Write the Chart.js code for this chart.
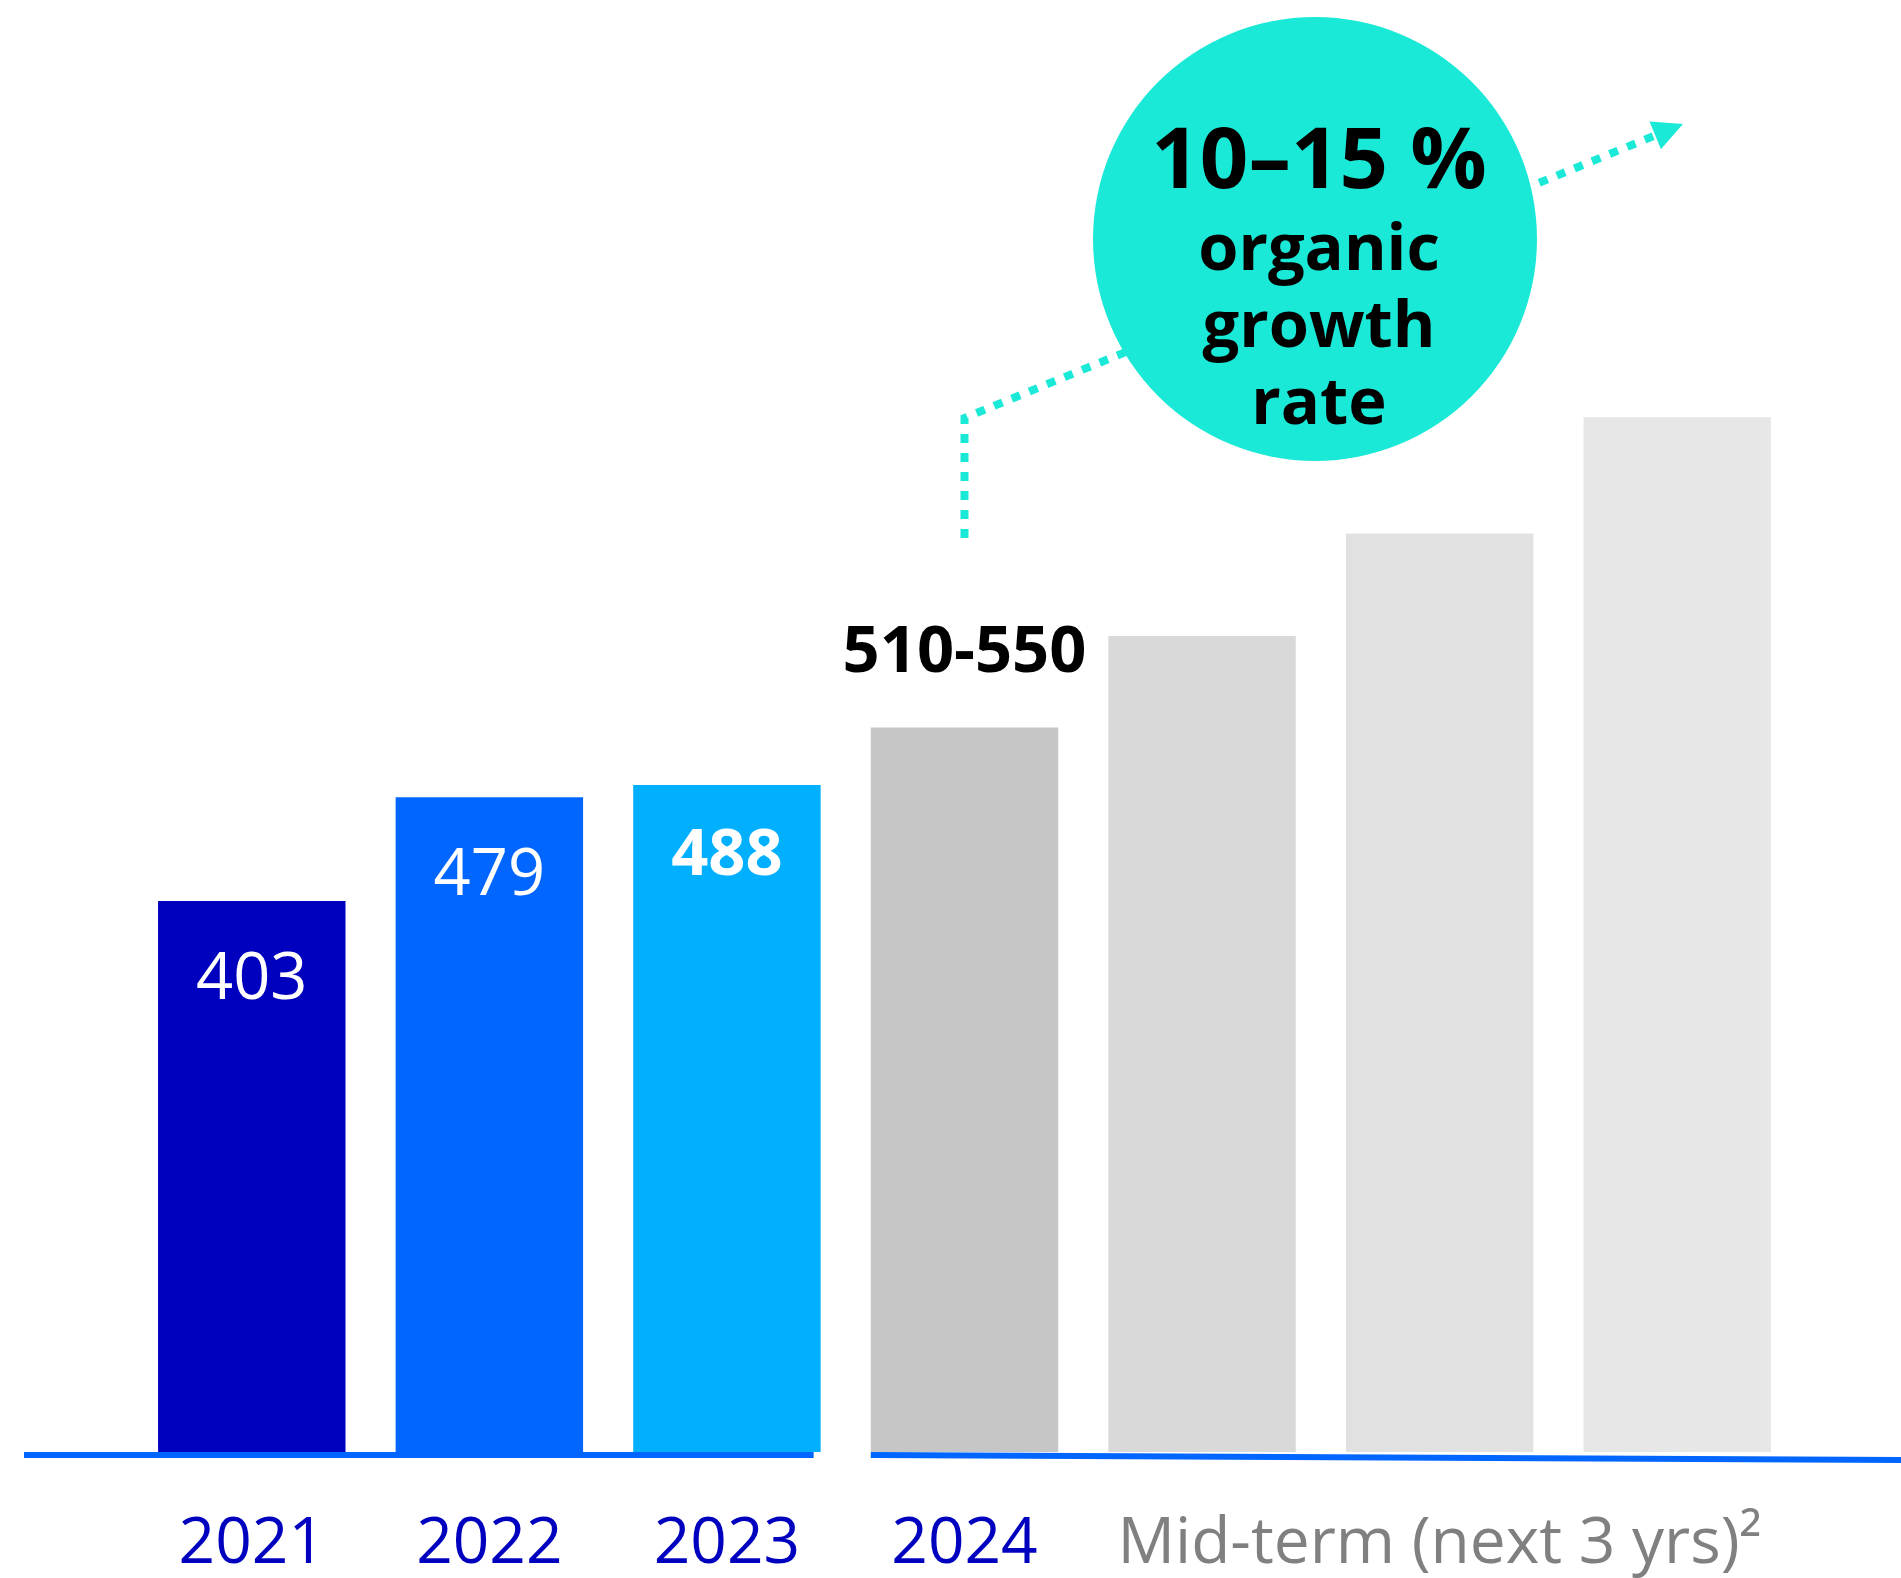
<!DOCTYPE html>
<html>
<head>
<meta charset="utf-8">
<script src="https://cdn.jsdelivr.net/npm/chart.js@4.4.1/dist/chart.umd.min.js"></script>
<style>
    html, body { margin: 0; padding: 0; background: #ffffff; }
    canvas { display: block; }
</style>
</head>
<body>
<canvas id="chart" width="1901" height="1578"></canvas>
<script>
// Dados do gráfico
const categories = ["2021", "2022", "2023", "2024", "", "Mid-term (next 3 yrs)\u00B2", ""];
const revenue = [403, 479, 488, 530, 597, 672, 757];
const valueLabels = ["403", "479", "488", "510-550", "", "", ""];
const growthText = ["10\u201315 %", "organic", "growth", "rate"];
const barColors = ["#0000BF", "#0066FF", "#00B0FF", "#C6C6C6", "#D9D9D9", "#E1E1E1", "#E7E7E7"];

const FONT = "'Open Sans', sans-serif";
const TEAL = "#1BE9D7";

// Rótulos dos valores
const valueLabelPlugin = {
    id: "valueLabels",
    afterDatasetsDraw(chart) {
        const ctx = chart.ctx;
        const bars = chart.getDatasetMeta(0).data;
        ctx.save();
        ctx.textAlign = "center";
        ctx.textBaseline = "alphabetic";
        bars.forEach(function (bar, i) {
            const text = valueLabels[i];
            if (!text) return;
            if (i < 3) {
                ctx.fillStyle = "#ffffff";
                ctx.font = (i === 2 ? "bold " : "") + "65px " + FONT;
                ctx.fillText(text, bar.x, bar.y + (i === 2 ? 90 : 98));
            } else {
                ctx.fillStyle = "#000000";
                ctx.font = "bold 65px " + FONT;
                ctx.fillText(text, bar.x, bar.y - 55);
            }
        });
        ctx.restore();
    }
};

// Linha de base (dois segmentos)
const baselinePlugin = {
    id: "baseline",
    afterDatasetsDraw(chart) {
        const ctx = chart.ctx;
        const bars = chart.getDatasetMeta(0).data;
        const y = chart.chartArea.bottom + 3;
        const b2023 = bars[2], b2024 = bars[3];
        ctx.save();
        ctx.strokeStyle = "#0066FF";
        ctx.lineWidth = 6;
        ctx.beginPath();
        ctx.moveTo(24, y);
        ctx.lineTo(b2023.x + b2023.width / 2 - 7, y);
        ctx.stroke();
        ctx.beginPath();
        ctx.moveTo(b2024.x - b2024.width / 2, y);
        ctx.lineTo(chart.width, y + 5);
        ctx.stroke();
        ctx.restore();
    }
};

// Seta pontilhada e círculo de crescimento
const growthPlugin = {
    id: "growth",
    afterDraw(chart) {
        const ctx = chart.ctx;
        const x0 = chart.getDatasetMeta(0).data[3].x;
        const tip = { x: 1683, y: 124 };
        const corner = { x: x0, y: 418 };
        const dx = tip.x - corner.x, dy = tip.y - corner.y;
        const len = Math.sqrt(dx * dx + dy * dy);
        const ux = dx / len, uy = dy / len;
        const headLen = 30, headHalf = 15;
        const base = { x: tip.x - ux * headLen, y: tip.y - uy * headLen };

        ctx.save();
        ctx.strokeStyle = TEAL;
        ctx.fillStyle = TEAL;
        ctx.lineWidth = 8;
        ctx.setLineDash([9, 10]);
        ctx.beginPath();
        ctx.moveTo(x0, 538);
        ctx.lineTo(corner.x, corner.y);
        ctx.lineTo(base.x, base.y);
        ctx.stroke();
        ctx.setLineDash([]);
        ctx.beginPath();
        ctx.moveTo(tip.x, tip.y);
        ctx.lineTo(base.x - uy * headHalf, base.y + ux * headHalf);
        ctx.lineTo(base.x + uy * headHalf, base.y - ux * headHalf);
        ctx.closePath();
        ctx.fill();

        // círculo
        ctx.beginPath();
        ctx.arc(1315, 239, 222, 0, Math.PI * 2);
        ctx.fill();

        ctx.fillStyle = "#000000";
        ctx.textAlign = "center";
        ctx.textBaseline = "alphabetic";
        ctx.font = "bold 85px " + FONT;
        ctx.fillText(growthText[0], 1319, 188);
        ctx.font = "bold 65px " + FONT;
        ctx.fillText(growthText[1], 1319, 270);
        ctx.fillText(growthText[2], 1319, 347);
        ctx.fillText(growthText[3], 1319, 424);
        ctx.restore();
    }
};

new Chart(document.getElementById("chart"), {
    type: "bar",
    data: {
        labels: categories,
        datasets: [{
            data: revenue,
            backgroundColor: barColors,
            borderWidth: 0,
            barPercentage: 0.789,
            categoryPercentage: 1,
        }],
    },
    options: {
        responsive: false,
        animation: false,
        devicePixelRatio: 1,
        layout: { padding: { top: 85, left: 133, right: 105, bottom: 0 } },
        plugins: {
            legend: { display: false },
            tooltip: { enabled: false },
        },
        scales: {
            x: {
                grid: { display: false, drawTicks: false },
                border: { display: false },
                ticks: {
                    color: c => (c.index < 4 ? "#0000BF" : "#808080"),
                    font: { family: FONT, size: 64 },
                    padding: 54,
                    autoSkip: false,
                    maxRotation: 0,
                    minRotation: 0,
                },
                afterFit: s => { s.height = 126; },
            },
            y: { display: false, min: 0, max: 1000 },
        },
    },
    plugins: [valueLabelPlugin, baselinePlugin, growthPlugin],
});
</script>
</body>
</html>
